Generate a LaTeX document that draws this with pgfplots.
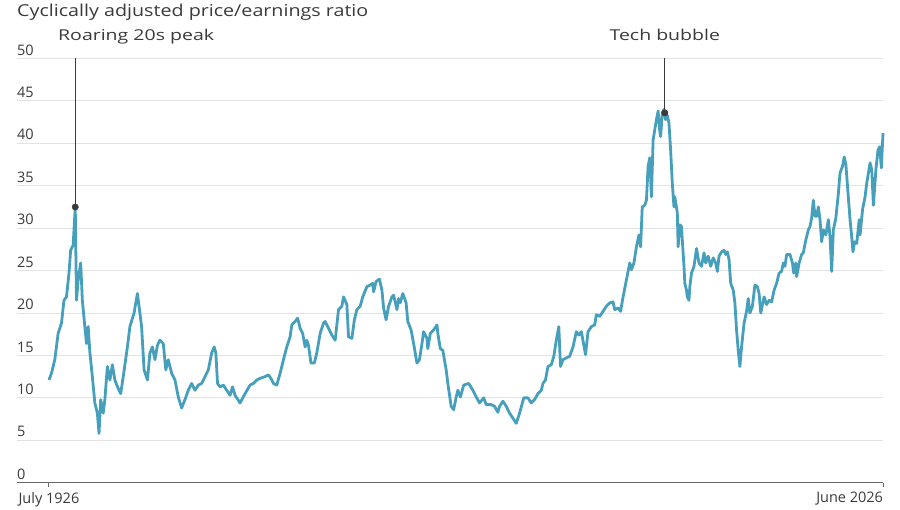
\documentclass[border=0pt]{standalone}
\usepackage{pgfplots}
\pgfplotsset{compat=1.18}
\usepackage{fontspec}
\setmainfont{Open Sans}
\newfontfamily\titlefont{Open Sans}[FakeStretch=1.2]
\newfontfamily\annfont{Open Sans}[FakeStretch=1.3]
\definecolor{lineblue}{HTML}{469FBB}
\definecolor{gridgray}{HTML}{E3E3E3}
\definecolor{txt}{HTML}{3A3A3A}
\definecolor{axgray}{HTML}{6A6A6A}
\begin{document}
\begin{tikzpicture}[x=1pt,y=1pt]
\path[use as bounding box] (0,0) rectangle (900,510);
\node[anchor=west, inner sep=0pt, text=txt, font=\titlefont\fontsize{16.4}{18}\selectfont] at (17,498) {Cyclically adjusted price/earnings ratio};
\begin{axis}[
  at={(17pt,27.3pt)}, anchor=south west,
  scale only axis, width=866pt, height=424.2pt,
  xmin=1922.67, xmax=2026.45, ymin=0, ymax=50,
  clip=false,
  axis x line*=bottom, axis y line*=left,
  x axis line style={draw=axgray, line width=1.2pt, -},
  y axis line style={draw=none},
  ytick={0,5,...,50}, ytick style={draw=none},
  ymajorgrids, grid style={draw=gridgray, line width=0.9pt},
  yticklabel style={anchor=south west, inner sep=0pt, yshift=3pt, text=txt, font=\fontsize{14.5}{16}\selectfont},
  /pgf/number format/assume math mode=true,
  xtick={1926.5,2026.45}, xticklabels={July 1926, \llap{June 2026}},
  xtick align=outside, major tick length=4pt,
  xtick style={draw=axgray, line width=1pt},
  xticklabel style={anchor=north, yshift=-2pt, text=txt, font=\fontsize{14.5}{16}\selectfont},
]
\addplot[lineblue, line width=2.8pt, line join=round] coordinates {
(1926.5,12.1) (1926.8,12.9) (1927.2,14.5) (1927.6,17.6) (1928.0,18.8) (1928.3,21.5) (1928.6,21.9) (1928.9,24.7) (1929.1,27.4) (1929.4,28.0) (1929.65,32.5)
(1929.8,21.5) (1930.0,23.9) (1930.3,25.9) (1930.5,21.5) (1930.8,18.4) (1931.0,16.4) (1931.2,18.4) (1931.4,15.4) (1931.7,12.5) (1932.0,9.4) (1932.3,8.2) (1932.5,5.8)
(1932.7,9.8) (1933.0,8.2) (1933.2,9.8) (1933.5,13.7) (1933.8,12.1) (1934.1,13.9) (1934.4,12.1) (1934.8,11.1) (1935.1,10.5) (1935.4,12.5) (1935.9,16.0) (1936.2,18.4)
(1936.7,20.0) (1937.1,22.3) (1937.4,20.0) (1937.6,18.4) (1937.9,13.3) (1938.3,12.1) (1938.6,15.3) (1938.9,16.0) (1939.2,14.5) (1939.5,16.2) (1939.8,16.8) (1940.2,16.4)
(1940.5,13.3) (1940.8,14.5) (1941.2,12.9) (1941.6,12.1) (1942.0,10.1) (1942.4,8.8) (1942.8,9.8) (1943.2,10.9) (1943.6,11.7) (1944.0,10.9) (1944.4,11.5) (1944.8,11.7)
(1945.2,12.5) (1945.6,13.3) (1946.0,15.3) (1946.3,16.0) (1946.5,15.3) (1946.7,11.7) (1947.0,11.3) (1947.4,11.5) (1947.8,10.9) (1948.2,10.3) (1948.5,11.3) (1948.8,10.3)
(1949.4,9.4) (1950.0,10.5) (1950.6,11.5) (1951.0,11.7) (1951.4,12.1) (1951.8,12.3) (1952.4,12.5) (1952.8,12.7) (1953.1,12.3) (1953.4,11.7) (1953.8,11.5) (1954.2,12.9)
(1954.6,14.5) (1955.0,16.0) (1955.4,17.2) (1955.6,18.6) (1956.0,19.0) (1956.3,19.4) (1956.6,18.2) (1956.9,17.6) (1957.2,16.0) (1957.4,16.8) (1957.6,16.2) (1957.9,14.1)
(1958.3,14.1) (1958.6,15.3) (1959.0,17.6) (1959.4,18.8) (1959.6,19.0) (1960.0,18.2) (1960.4,17.4) (1960.8,16.8) (1961.2,20.4) (1961.6,20.8) (1961.8,21.9) (1962.2,21.0)
(1962.4,17.2) (1962.8,17.0) (1963.1,19.2) (1963.4,20.4) (1963.8,20.8) (1964.1,21.9) (1964.6,23.1) (1965.0,23.3) (1965.3,23.5) (1965.4,22.5) (1965.7,23.7) (1966.1,24.0)
(1966.4,22.7) (1966.6,20.6) (1966.9,19.2) (1967.2,20.8) (1967.6,21.9) (1967.8,22.1) (1968.2,20.4) (1968.4,21.7) (1968.6,21.2) (1968.9,22.3) (1969.3,21.2) (1969.5,19.0)
(1969.9,18.0) (1970.2,16.4) (1970.6,14.1) (1970.9,14.5) (1971.2,16.4) (1971.4,17.8) (1971.8,17.0) (1971.9,15.8) (1972.2,17.6) (1972.6,18.0) (1973.0,18.6) (1973.1,17.6)
(1973.4,15.8) (1973.7,15.6) (1974.1,13.3) (1974.3,11.7) (1974.7,9.0) (1975.0,8.6) (1975.3,10.1) (1975.5,10.9) (1975.8,10.1) (1976.2,11.5) (1976.8,11.7) (1977.3,10.9)
(1977.7,10.1) (1978.1,9.4) (1978.6,10.0) (1978.9,9.2) (1979.5,9.2) (1979.9,9.0) (1980.3,8.3) (1980.5,9.0) (1980.9,9.6) (1981.3,9.0) (1981.7,8.2) (1982.1,7.6)
(1982.5,7.0) (1982.9,8.2) (1983.4,10.0) (1983.9,10.0) (1984.3,9.4) (1984.7,9.8) (1985.1,10.5) (1985.5,10.9) (1985.7,11.7) (1986.0,12.1) (1986.3,13.7) (1986.7,13.9)
(1987.0,14.9) (1987.3,16.8) (1987.6,18.4) (1987.8,13.7) (1988.1,14.5) (1988.5,14.7) (1988.9,14.9) (1989.3,16.0) (1989.7,17.8) (1990.0,17.4) (1990.3,17.8) (1990.6,16.2)
(1990.8,15.1) (1991.1,17.8) (1991.5,18.4) (1991.9,18.6) (1992.1,19.8) (1992.5,19.6) (1992.9,20.2) (1993.3,20.8) (1993.7,21.2) (1994.1,21.3) (1994.3,20.4) (1994.7,20.6)
(1995.0,20.2) (1995.3,21.9) (1995.7,23.9) (1996.1,25.9) (1996.3,25.1) (1996.6,25.9) (1996.9,27.8) (1997.2,29.2) (1997.4,27.8) (1997.6,32.5) (1997.9,32.7) (1998.1,33.3)
(1998.3,37.3) (1998.5,38.3) (1998.7,33.7) (1998.9,40.4) (1999.1,41.6) (1999.3,42.8) (1999.5,43.8) (1999.7,41.4) (1999.8,40.8) (2000.0,43.6) (2000.2,44.0) (2000.4,42.8)
(2000.6,43.3) (2000.8,42.4) (2001.0,39.2) (2001.2,35.3) (2001.4,32.5) (2001.5,33.7) (2001.8,31.8) (2001.9,27.8) (2002.1,30.4) (2002.3,30.2) (2002.4,28.6) (2002.6,25.5)
(2002.7,23.5) (2002.9,22.7) (2003.0,21.9) (2003.2,21.5) (2003.3,23.1) (2003.5,24.7) (2003.8,25.5) (2004.1,27.6) (2004.4,25.9) (2004.7,25.5) (2005.0,27.1) (2005.2,25.9)
(2005.5,26.7) (2005.8,25.5) (2006.1,26.5) (2006.4,25.9) (2006.6,24.9) (2006.8,26.7) (2007.1,27.2) (2007.4,27.4) (2007.6,26.9) (2007.8,27.2) (2008.0,26.3) (2008.2,23.5)
(2008.5,22.7) (2008.7,21.2) (2008.9,18.0) (2009.1,15.6) (2009.3,13.7) (2009.5,16.0) (2009.8,18.8) (2010.1,20.2) (2010.3,21.7) (2010.5,20.0) (2010.8,20.8) (2011.1,23.3)
(2011.4,23.1) (2011.6,22.3) (2011.8,20.0) (2012.2,21.9) (2012.5,21.0) (2012.8,21.5) (2013.1,21.3) (2013.4,22.7) (2013.7,23.5) (2014.0,24.7) (2014.3,24.9) (2014.5,25.9)
(2014.7,25.5) (2014.9,26.9) (2015.3,26.9) (2015.6,25.9) (2015.75,24.7) (2016.0,25.9) (2016.1,24.3) (2016.4,25.9) (2016.7,26.9) (2016.9,27.1) (2017.2,28.6) (2017.5,29.8)
(2017.7,30.2) (2017.9,31.2) (2018.1,33.3) (2018.3,31.4) (2018.5,31.4) (2018.7,32.5) (2018.9,31.0) (2019.1,28.4) (2019.3,29.8) (2019.6,29.2) (2019.9,31.0) (2020.1,29.0)
(2020.3,24.9) (2020.5,29.8) (2020.8,31.2) (2021.1,34.1) (2021.3,36.5) (2021.6,37.3) (2021.8,38.4) (2022.0,37.5) (2022.2,34.9) (2022.5,31.0) (2022.7,29.0) (2022.85,27.2)
(2023.05,28.4) (2023.3,28.2) (2023.6,31.0) (2023.7,29.2) (2024.0,32.2) (2024.3,33.7) (2024.5,35.3) (2024.9,37.7) (2025.1,36.9) (2025.3,32.7) (2025.6,36.9) (2025.85,39.2)
(2026.05,39.6) (2026.25,37.1) (2026.45,41.2)
};
% annotation leaders and dots
\addplot[draw=txt, line width=1.2pt, mark=none] coordinates {(1929.65,32.5) (1929.65,50)};
\addplot[draw=txt, line width=1.2pt, mark=none] coordinates {(2000.3,43.6) (2000.3,50)};
\addplot[only marks, mark=*, mark size=3.2pt, color=txt] coordinates {(1929.65,32.5) (2000.3,43.6)};
\node[anchor=base west, inner sep=0pt, text=txt, font=\annfont\fontsize{15}{18}\selectfont] at (axis cs:1927.58,52.1) {Roaring 20s peak};
\node[anchor=base, inner sep=0pt, text=txt, font=\annfont\fontsize{15}{18}\selectfont] at (axis cs:2000.3,52.1) {Tech bubble};
\end{axis}
\end{tikzpicture}
\end{document}
